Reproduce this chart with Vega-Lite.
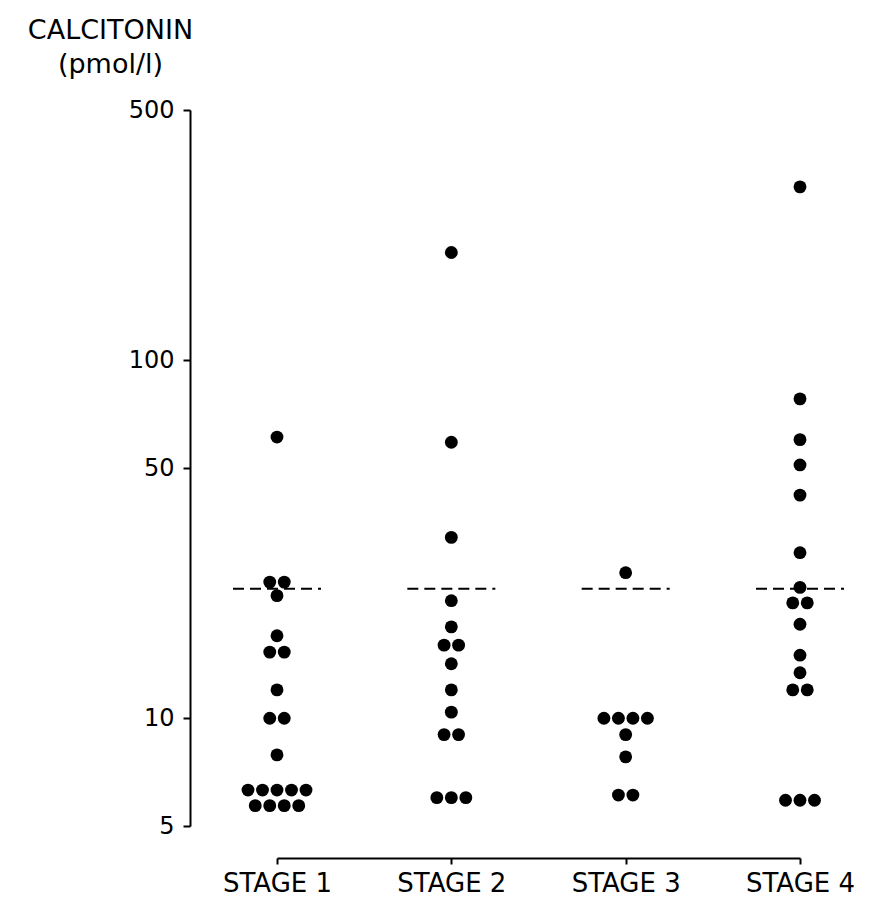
{
  "$schema": "https://vega.github.io/schema/vega-lite/v6.json",
  "autosize": "none",
  "width": 523,
  "height": 716,
  "padding": {"left": 277, "top": 110, "right": 80, "bottom": 84},
  "background": "white",
  "config": {
    "view": {"stroke": null},
    "font": "DejaVu Sans",
    "axis": {
      "domainColor": "black",
      "tickColor": "black",
      "labelColor": "black",
      "titleColor": "black",
      "domainWidth": 2,
      "tickWidth": 2,
      "grid": false,
      "labelFont": "DejaVu Sans",
      "titleFont": "DejaVu Sans"
    }
  },
  "datasets": {
    "dots": [
      {"stage": "STAGE 1", "value": 61},
      {"stage": "STAGE 1", "value": 24},
      {"stage": "STAGE 1", "value": 24},
      {"stage": "STAGE 1", "value": 22},
      {"stage": "STAGE 1", "value": 17},
      {"stage": "STAGE 1", "value": 15.3},
      {"stage": "STAGE 1", "value": 15.3},
      {"stage": "STAGE 1", "value": 12},
      {"stage": "STAGE 1", "value": 10},
      {"stage": "STAGE 1", "value": 10},
      {"stage": "STAGE 1", "value": 7.9},
      {"stage": "STAGE 1", "value": 6.3},
      {"stage": "STAGE 1", "value": 6.3},
      {"stage": "STAGE 1", "value": 6.3},
      {"stage": "STAGE 1", "value": 6.3},
      {"stage": "STAGE 1", "value": 6.3},
      {"stage": "STAGE 1", "value": 5.7},
      {"stage": "STAGE 1", "value": 5.7},
      {"stage": "STAGE 1", "value": 5.7},
      {"stage": "STAGE 1", "value": 5.7},
      {"stage": "STAGE 2", "value": 200},
      {"stage": "STAGE 2", "value": 59},
      {"stage": "STAGE 2", "value": 32},
      {"stage": "STAGE 2", "value": 21.3},
      {"stage": "STAGE 2", "value": 18},
      {"stage": "STAGE 2", "value": 16},
      {"stage": "STAGE 2", "value": 16},
      {"stage": "STAGE 2", "value": 14.2},
      {"stage": "STAGE 2", "value": 12},
      {"stage": "STAGE 2", "value": 10.4},
      {"stage": "STAGE 2", "value": 9},
      {"stage": "STAGE 2", "value": 9},
      {"stage": "STAGE 2", "value": 6},
      {"stage": "STAGE 2", "value": 6},
      {"stage": "STAGE 2", "value": 6},
      {"stage": "STAGE 3", "value": 25.5},
      {"stage": "STAGE 3", "value": 10},
      {"stage": "STAGE 3", "value": 10},
      {"stage": "STAGE 3", "value": 10},
      {"stage": "STAGE 3", "value": 10},
      {"stage": "STAGE 3", "value": 9},
      {"stage": "STAGE 3", "value": 7.8},
      {"stage": "STAGE 3", "value": 6.1},
      {"stage": "STAGE 3", "value": 6.1},
      {"stage": "STAGE 4", "value": 305},
      {"stage": "STAGE 4", "value": 78},
      {"stage": "STAGE 4", "value": 60},
      {"stage": "STAGE 4", "value": 51},
      {"stage": "STAGE 4", "value": 42},
      {"stage": "STAGE 4", "value": 29},
      {"stage": "STAGE 4", "value": 23.2},
      {"stage": "STAGE 4", "value": 21},
      {"stage": "STAGE 4", "value": 21},
      {"stage": "STAGE 4", "value": 18.3},
      {"stage": "STAGE 4", "value": 15},
      {"stage": "STAGE 4", "value": 13.4},
      {"stage": "STAGE 4", "value": 12},
      {"stage": "STAGE 4", "value": 12},
      {"stage": "STAGE 4", "value": 5.9},
      {"stage": "STAGE 4", "value": 5.9},
      {"stage": "STAGE 4", "value": 5.9}
    ],
    "limits": [
      {"stage": "STAGE 1", "limit": 23},
      {"stage": "STAGE 2", "limit": 23},
      {"stage": "STAGE 3", "limit": 23},
      {"stage": "STAGE 4", "limit": 23}
    ]
  },
  "encoding": {
    "x": {
      "field": "stage",
      "type": "nominal",
      "scale": {"type": "point", "padding": 0, "domain": ["STAGE 1", "STAGE 2", "STAGE 3", "STAGE 4"]},
      "axis": {
        "title": null,
        "labelAngle": 0,
        "offset": 32,
        "tickSize": 6,
        "labelPadding": 6,
        "labelFontSize": 26,
        "labelFontWeight": "normal"
      }
    }
  },
  "layer": [
    {
      "data": {"name": "limits"},
      "mark": {"type": "rule", "color": "black", "strokeWidth": 1.8, "strokeDash": [11, 6], "xOffset": -44, "x2Offset": 44},
      "encoding": {
        "x2": {"field": "stage"},
        "y": {
          "field": "limit",
          "type": "quantitative",
          "scale": {"type": "log", "domain": [5, 500], "nice": false},
          "axis": {
            "offset": 87,
            "values": [5, 10, 50, 100, 500],
            "format": "d",
            "tickSize": 7,
            "labelPadding": 9,
            "labelFontSize": 24,
            "title": ["CALCITONIN", "(pmol/l)"],
            "titleAngle": 0,
            "titleAlign": "center",
            "titleBaseline": "alphabetic",
            "titleX": -80,
            "titleY": -72,
            "titleFontSize": 27,
            "titleFontWeight": "normal",
            "titleLineHeight": 34
          }
        }
      }
    },
    {
      "data": {"name": "dots"},
      "transform": [
        {"window": [{"op": "row_number", "as": "idx"}, {"op": "count", "as": "n"}], "groupby": ["stage", "value"], "frame": [null, null]},
        {"calculate": "datum.idx - (datum.n + 1) / 2", "as": "slot"}
      ],
      "mark": {"type": "circle", "color": "black", "opacity": 1, "size": 165},
      "encoding": {
        "y": {"field": "value", "type": "quantitative"},
        "xOffset": {"field": "slot", "type": "quantitative", "scale": {"domain": [-1, 1], "range": [-14.5, 14.5], "nice": false, "zero": false}}
      }
    }
  ]
}
